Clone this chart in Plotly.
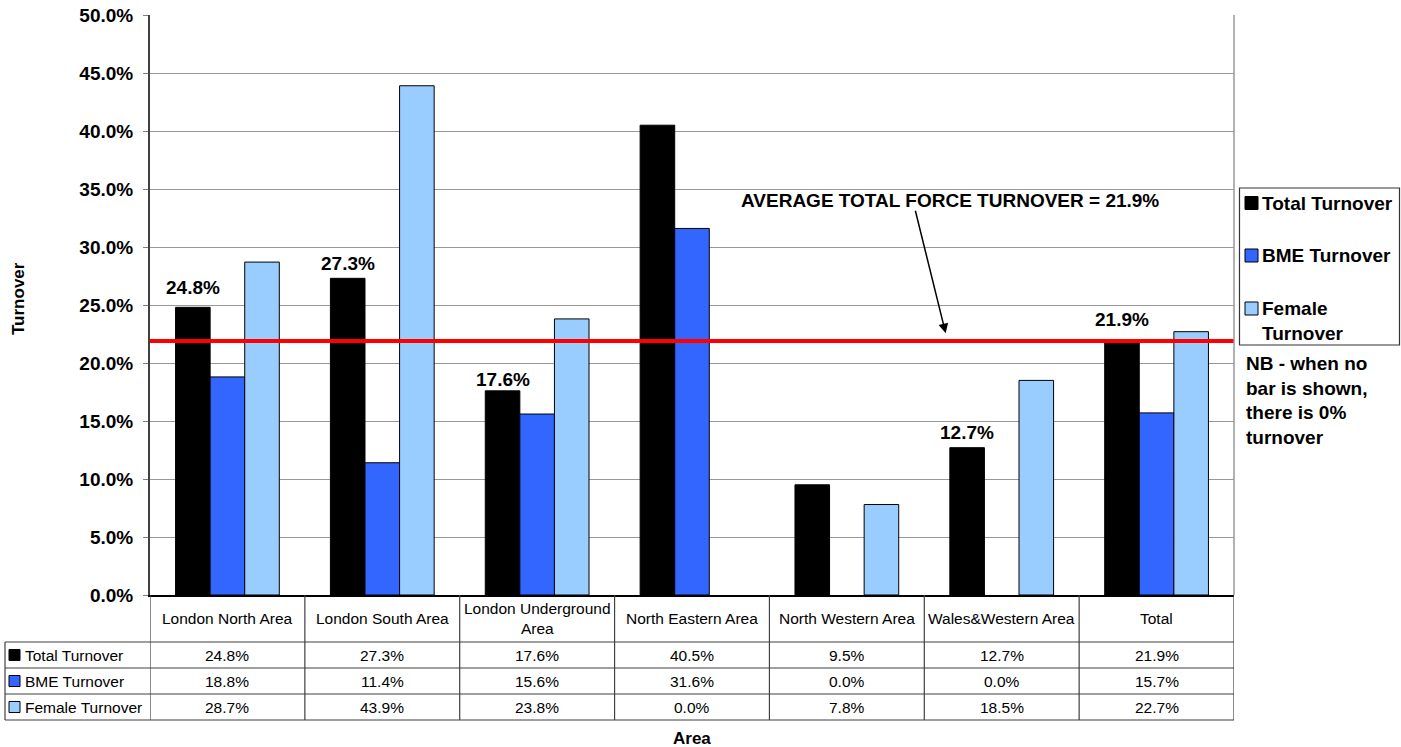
import plotly.graph_objects as go

# ---- data -------------------------------------------------------------
areas = [
    "London North Area", "London South Area", "London Underground Area",
    "North Eastern Area", "North Western Area", "Wales&Western Area", "Total",
]
area_header_text = [
    "London North Area", "London South Area", "London Underground<br>Area",
    "North Eastern Area", "North Western Area", "Wales&Western Area", "Total",
]
total_turnover = [24.8, 27.3, 17.6, 40.5, 9.5, 12.7, 21.9]
bme_turnover = [18.8, 11.4, 15.6, 31.6, 0.0, 0.0, 15.7]
female_turnover = [28.7, 43.9, 23.8, 0.0, 7.8, 18.5, 22.7]
series_names = ["Total Turnover", "BME Turnover", "Female Turnover"]
legend_text = ["Total Turnover", "BME Turnover", "Female<br>Turnover"]
y_tick_values = [0, 5, 10, 15, 20, 25, 30, 35, 40, 45, 50]
labelled_total_areas = [
    "London North Area", "London South Area", "London Underground Area",
    "Wales&Western Area", "Total",
]
average_turnover = total_turnover[areas.index("Total")]

# ---- styling ------------------------------------------------------------
FONT = "Liberation Sans, Arial, sans-serif"
colors = ["#000000", "#3366FF", "#99CCFF"]
BARGAP = 0.33
FIG_W, FIG_H = 1401, 747
L, R, T, B = 150, 1234, 15, 595          # plot area in pixels
PW, PH = R - L, B - T

def px(x):
    return (x - L) / PW

def py(y):
    return (B - y) / PH

# gap (px) between bar top and its value label
label_gap = {
    "London North Area": 13, "London South Area": 8,
    "London Underground Area": 5, "Wales&Western Area": 8, "Total": 15,
}

fig = go.Figure()
for name, vals, col in zip(series_names,
                           [total_turnover, bme_turnover, female_turnover],
                           colors):
    fig.add_trace(go.Bar(
        x=areas, y=vals, name=name,
        marker=dict(color=col,
                    line=dict(color="#000000",
                              width=[0 if v == 0 else 1 for v in vals])),
        showlegend=False, hoverinfo="x+y",
    ))

shapes = []
annotations = []

# average line
shapes.append(dict(type="line", xref="paper", yref="y", x0=0, x1=1,
                   y0=average_turnover, y1=average_turnover,
                   line=dict(color="#FF0000", width=4), layer="above"))
# right border of plot area
shapes.append(dict(type="line", xref="paper", yref="paper", x0=1, x1=1,
                   y0=0, y1=1, line=dict(color="#999999", width=1.5)))

# value labels above selected Total Turnover bars
first_bar_offset = -(1 - BARGAP) / 3
for a in labelled_total_areas:
    i = areas.index(a)
    v = total_turnover[i]
    annotations.append(dict(
        x=i + first_bar_offset, y=v, xref="x", yref="y",
        text=f"{v:.1f}%", showarrow=False, yanchor="middle",
        yshift=label_gap[a] + 6.7,
        font=dict(family=FONT, size=19, color="#000000", weight="bold"),
    ))

# callout for the average line
annotations.append(dict(
    x=px(949.7), y=py(200.3), xref="paper", yref="paper",
    text=f"AVERAGE TOTAL FORCE TURNOVER = {average_turnover:.1f}%",
    showarrow=False, xanchor="center", yanchor="middle",
    font=dict(family=FONT, size=19, color="#000000", weight="bold"),
))
annotations.append(dict(
    x=px(945.7), y=py(333.3), xref="paper", yref="paper", text="",
    showarrow=True, axref="pixel", ayref="pixel", ax=-30.7, ay=-124,
    arrowhead=2, arrowsize=1.3, arrowwidth=1.5, arrowcolor="#000000",
))

# ---- data table under the axis ----------------------------------------
line_col = "#404040"
header_top, header_bot = 595, 642
row_h = 26
row_tops = [header_bot + k * row_h for k in range(len(series_names))]
table_bot = header_bot + row_h * len(series_names)
table_left = 5

for yy in [header_bot] + [t + row_h for t in row_tops]:
    shapes.append(dict(type="line", xref="paper", yref="paper",
                       x0=px(table_left), x1=1, y0=py(yy), y1=py(yy),
                       line=dict(color=line_col, width=1.2)))
shapes.append(dict(type="line", xref="paper", yref="paper",
                   x0=px(table_left), x1=px(table_left),
                   y0=py(header_bot), y1=py(table_bot),
                   line=dict(color=line_col, width=1.2)))
for i in range(len(areas) + 1):
    shapes.append(dict(type="line", xref="x", yref="paper",
                       x0=i - 0.5, x1=i - 0.5,
                       y0=py(header_top), y1=py(table_bot),
                       line=dict(color=line_col, width=1.2)))

for i, lab in enumerate(area_header_text):
    annotations.append(dict(
        x=i, y=py((header_top + header_bot) / 2), xref="x", yref="paper",
        text=lab, showarrow=False, xanchor="center", yanchor="middle",
        font=dict(family=FONT, size=15.5, color="#000000"),
    ))

for r, (name, vals, col) in enumerate(zip(
        series_names, [total_turnover, bme_turnover, female_turnover], colors)):
    yc = row_tops[r] + row_h / 2
    shapes.append(dict(type="rect", xref="paper", yref="paper",
                       x0=px(9), x1=px(20), y0=py(yc - 5.5), y1=py(yc + 5.5),
                       fillcolor=col, line=dict(color="#000000", width=1)))
    annotations.append(dict(
        x=px(23), y=py(yc), xref="paper", yref="paper", text=name,
        showarrow=False, xanchor="left", yanchor="middle",
        font=dict(family=FONT, size=15.5, color="#000000"),
    ))
    for i, v in enumerate(vals):
        annotations.append(dict(
            x=i, y=py(yc), xref="x", yref="paper", text=f"{v:.1f}%",
            showarrow=False, xanchor="center", yanchor="middle",
            font=dict(family=FONT, size=15.5, color="#000000"),
        ))

# ---- legend box --------------------------------------------------------
shapes.append(dict(type="rect", xref="paper", yref="paper",
                   x0=px(1239.5), x1=px(1399.5), y0=py(345), y1=py(188),
                   fillcolor="#FFFFFF", line=dict(color="#333333", width=1.2)))
legend_rows = [203, 255.5, 308.5]
for k, (txt, col) in enumerate(zip(legend_text, colors)):
    yc = legend_rows[k]
    shapes.append(dict(type="rect", xref="paper", yref="paper",
                       x0=px(1245), x1=px(1258), y0=py(yc + 6.5), y1=py(yc - 6.5),
                       fillcolor=col, line=dict(color="#000000", width=1)))
    n_lines = txt.count("<br>") + 1
    annotations.append(dict(
        x=px(1260), y=py(yc + (n_lines - 1) * 12), xref="paper", yref="paper",
        text=txt, showarrow=False, xanchor="left", yanchor="middle", align="left",
        font=dict(family=FONT, size=19, color="#000000", weight="bold"),
    ))

annotations.append(dict(
    x=px(1244), y=py(400.8), xref="paper", yref="paper",
    text="NB - when no<br>bar is shown,<br>there is 0%<br>turnover",
    showarrow=False, xanchor="left", yanchor="middle", align="left",
    font=dict(family=FONT, size=19, color="#000000", weight="bold"),
))

# axis titles
annotations.append(dict(
    x=px(18), y=py(299), xref="paper", yref="paper", text="Turnover",
    textangle=-90, showarrow=False, xanchor="center", yanchor="middle",
    font=dict(family=FONT, size=17, color="#000000", weight="bold"),
))
annotations.append(dict(
    x=px(692), y=py(738), xref="paper", yref="paper", text="Area",
    showarrow=False, xanchor="center", yanchor="middle",
    font=dict(family=FONT, size=17, color="#000000", weight="bold"),
))

fig.update_layout(
    width=FIG_W, height=FIG_H,
    margin=dict(l=L, r=FIG_W - R, t=T, b=FIG_H - B, autoexpand=False),
    paper_bgcolor="#FFFFFF", plot_bgcolor="#FFFFFF",
    barmode="group", bargap=BARGAP, bargroupgap=0,
    showlegend=False,
    font=dict(family=FONT, color="#000000"),
    xaxis=dict(
        type="category", categoryorder="array", categoryarray=areas,
        range=[-0.5, len(areas) - 0.5],
        showticklabels=False, ticks="", showgrid=False,
        showline=True, linecolor="#000000", linewidth=1.5,
        zeroline=False, fixedrange=True,
    ),
    yaxis=dict(
        range=[0, 50], tickvals=y_tick_values,
        ticktext=[f"{v:.1f}%" for v in y_tick_values],
        ticks="outside", ticklen=5, tickcolor="#808080", tickwidth=1,
        ticklabelstandoff=6,
        tickfont=dict(family=FONT, size=19, color="#000000", weight="bold"),
        showgrid=True, gridcolor="#999999", gridwidth=1,
        showline=True, linecolor="#404040", linewidth=2,
        zeroline=False, fixedrange=True,
    ),
    shapes=shapes,
    annotations=annotations,
)

fig.write_html("out.html")
